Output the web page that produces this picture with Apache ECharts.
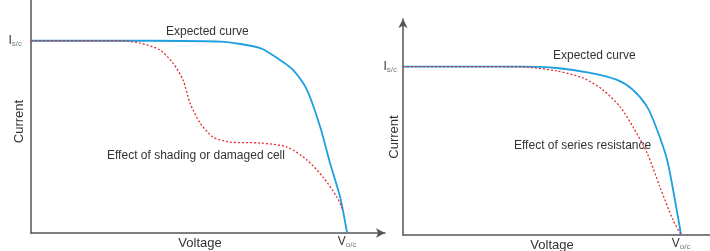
<!DOCTYPE html>
<html>
<head>
<meta charset="utf-8">
<script src="https://cdn.jsdelivr.net/npm/echarts@6/dist/echarts.min.js"></script>
<style>
    html, body { margin: 0; padding: 0; background: #fff; }
    #chart { width: 710px; height: 251px; }
</style>
</head>
<body>
<div id="chart"></div>
<script>
// 左图：遮挡 / 损坏电池 (V/Voc, I/Isc)
const shadeExpected = [
    [0, 1], [0.377, 1], [0.598, 0.995], [0.725, 0.962], [0.788, 0.9],
    [0.829, 0.848], [0.873, 0.744], [0.915, 0.551], [0.946, 0.364],
    [0.978, 0.187], [1, 0],
]
const shadeDamaged = [
    [0, 1], [0.282, 1], [0.345, 0.988], [0.408, 0.952], [0.449, 0.884],
    [0.481, 0.796], [0.503, 0.676], [0.535, 0.572], [0.576, 0.499],
    [0.63, 0.473], [0.725, 0.468], [0.81, 0.447], [0.873, 0.38],
    [0.924, 0.291], [0.968, 0.187], [0.987, 0.12],
]
// 右图：串联电阻
const seriesExpected = [
    [0, 1], [0.421, 1], [0.554, 0.992], [0.673, 0.963], [0.77, 0.921],
    [0.827, 0.862], [0.878, 0.761], [0.914, 0.624], [0.95, 0.446],
    [0.978, 0.208], [1, 0],
]
const seriesResist = [
    [0, 1], [0.277, 1], [0.432, 0.998], [0.554, 0.974], [0.647, 0.933],
    [0.719, 0.862], [0.781, 0.761], [0.827, 0.642], [0.878, 0.487],
    [0.924, 0.285], [0.971, 0.089], [1, 0],
]
const annotations = [
    { text: 'Expected curve', x: 166, y: 33 },
    { text: 'Effect of shading or damaged cell', x: 107, y: 157 },
    { text: 'Expected curve', x: 553, y: 57 },
    { text: 'Effect of series resistance', x: 514, y: 147 },
]

const FONT = 'Liberation Sans, Arial, sans-serif'
const AXIS_COLOR = '#555'
const BLUE = '#1f9fe0'
const RED = '#e0302c'

const axisLine = {
    show: true,
    symbol: ['none', 'arrow'],
    symbolSize: [7, 9],
    lineStyle: { color: AXIS_COLOR, width: 1.5 },
}

function xAxisOf(gridIndex, max, padding) {
    return {
        type: 'value', gridIndex, min: 0, max, interval: 1,
        splitLine: { show: false }, axisTick: { show: false },
        axisLine,
        name: 'Voltage', nameLocation: 'middle', nameGap: 4, nameMoveOverlap: false,
        nameTextStyle: { color: '#333', fontSize: 13, fontFamily: FONT, padding },
        axisLabel: {
            margin: 2, showMaxLabel: false,
            formatter: v => (v === 1 ? 'V{s|o/c}' : ''),
            color: '#333', fontSize: 12, fontFamily: FONT,
            rich: { s: { fontSize: 8, color: '#777', fontFamily: FONT, padding: [6, 0, 0, 0] } },
        },
    }
}

function yAxisOf(gridIndex, max, gap, margin, padding) {
    return {
        type: 'value', gridIndex, min: 0, max, interval: 1,
        splitLine: { show: false }, axisTick: { show: false },
        axisLine,
        name: 'Current', nameLocation: 'middle', nameGap: gap, nameMoveOverlap: false,
        nameTextStyle: { color: '#333', fontSize: 13, fontFamily: FONT, padding },
        axisLabel: {
            margin, showMaxLabel: false,
            formatter: v => (v === 1 ? 'I{s|s/c}' : ''),
            color: '#333', fontSize: 12, fontFamily: FONT,
            rich: { s: { fontSize: 8, color: '#777', fontFamily: FONT, padding: [6, 0, 0, 0] } },
        },
    }
}

function lineOf(data, idx, dashed) {
    return {
        type: 'line', xAxisIndex: idx, yAxisIndex: idx,
        data, smooth: 0.25, showSymbol: false, symbol: 'none',
        lineStyle: dashed
            ? { color: RED, width: 1.3, type: [2, 2] }
            : { color: BLUE, width: 1.8 },
        z: dashed ? 3 : 2,
    }
}

const chart = echarts.init(document.getElementById('chart'))
chart.setOption({
    backgroundColor: '#fff',
    animation: false,
    grid: [
        { left: 31, top: -10, width: 354, height: 243, outerBoundsMode: 'none', containLabel: false },
        { left: 403, top: 19, width: 317, height: 216, outerBoundsMode: 'none', containLabel: false },
    ],
    xAxis: [xAxisOf(0, 1.12, [0, 16, 0, 0]), xAxisOf(1, 1.14, [0, 19, 0, 0])],
    yAxis: [
        yAxisOf(0, 1.264, 5, 9, [0, 20, 0, 0]),
        yAxisOf(1, 1.283, 2, 6, [0, 20, 0, 0]),
    ],
    series: [
        lineOf(shadeExpected, 0, false),
        lineOf(shadeDamaged, 0, true),
        lineOf(seriesExpected, 1, false),
        lineOf(seriesResist, 1, true),
    ],
    graphic: annotations.map(a => ({
        type: 'text', left: a.x, top: a.y - 7,
        style: { text: a.text, fill: '#333', font: '12px ' + FONT },
    })),
})
</script>
</body>
</html>
